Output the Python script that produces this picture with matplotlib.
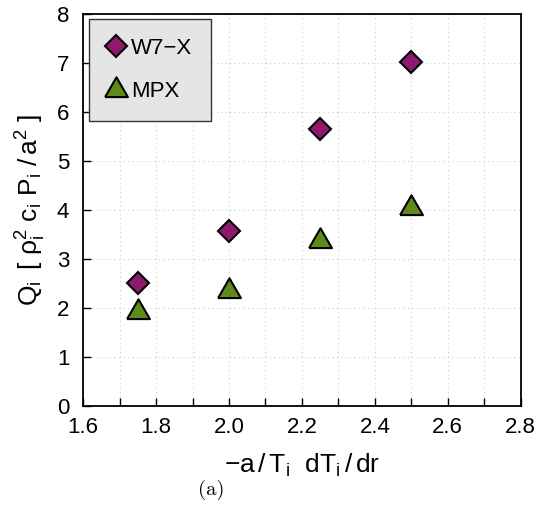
import matplotlib
matplotlib.use("Agg")
import matplotlib.pyplot as plt
from matplotlib.ticker import MultipleLocator

plt.rcParams["font.family"] = ["Liberation Sans", "DejaVu Sans"]
plt.rcParams["mathtext.fontset"] = "custom"
plt.rcParams["mathtext.rm"] = "Liberation Sans"
plt.rcParams["mathtext.it"] = "Liberation Sans"

# data
gradient = [1.75, 2.00, 2.25, 2.50]
w7x_flux = [2.50, 3.57, 5.65, 7.02]
mpx_flux = [1.92, 2.35, 3.37, 4.04]

xticks = [1.6, 1.8, 2.0, 2.2, 2.4, 2.6, 2.8]

purple = "#8e1a6e"
green = "#5e8a1c"

# equilateral triangle, centred on its centroid
tri = [(-1.0, -0.577), (1.0, -0.577), (0.0, 1.155), (-1.0, -0.577)]

fig = plt.figure(figsize=(5.47, 5.12), dpi=100)
ax = fig.add_axes([0.152, 0.207, 0.800, 0.766])

ax.plot(gradient, w7x_flux, linestyle="none", marker="D", markersize=11,
        markerfacecolor=purple, markeredgecolor="black", markeredgewidth=1.5,
        label="W7\u2212X", zorder=3)
ax.plot(gradient, mpx_flux, linestyle="none", marker=tri, markersize=19,
        markerfacecolor=green, markeredgecolor="black", markeredgewidth=1.5,
        label="MPX", zorder=3)

ax.set_xlim(1.6, 2.8)
ax.set_ylim(0, 8)
ax.set_xticks(xticks)
ax.set_xticklabels([f"{v:.1f}" for v in xticks])
ax.xaxis.set_minor_locator(MultipleLocator(0.1))
ax.yaxis.set_major_locator(MultipleLocator(1))
ax.grid(True, which="both", axis="x", color="#cccccc", linestyle=(0, (1, 3)), linewidth=0.8)
ax.grid(True, which="major", axis="y", color="#cccccc", linestyle=(0, (1, 3)), linewidth=0.8)
ax.tick_params(which="both", direction="in", labelsize=16, width=1.0)
ax.tick_params(which="major", length=6)
ax.tick_params(which="minor", length=6)
ax.tick_params(axis="x", pad=8)
ax.tick_params(axis="y", pad=10)
for s in ax.spines.values():
    s.set_linewidth(1.3)

ax.set_xlabel(r"$-\mathrm{a\,/\,T_i\ \ dT_i\,/\,dr}$", fontsize=19, labelpad=10)
ax.set_ylabel(r"$\mathrm{Q_i\ \,[\ \rho_i^2\ c_i\ P_i\ /\,a^2\ ]}$", fontsize=19, labelpad=6)

leg = ax.legend(loc="upper left", fontsize=16, frameon=True, fancybox=False,
                borderpad=0.85, labelspacing=1.0, handletextpad=0.25,
                borderaxespad=0.25, handlelength=0.8)
leg.get_frame().set_facecolor("#e5e5e5")
leg.get_frame().set_edgecolor("#333333")
leg.get_frame().set_alpha(1.0)
leg.get_frame().set_linewidth(1.0)

fig.text(0.386, 0.043, "(a)", family="cmr10", fontsize=15, ha="center", va="center")

fig.savefig("out.png", dpi=100)
